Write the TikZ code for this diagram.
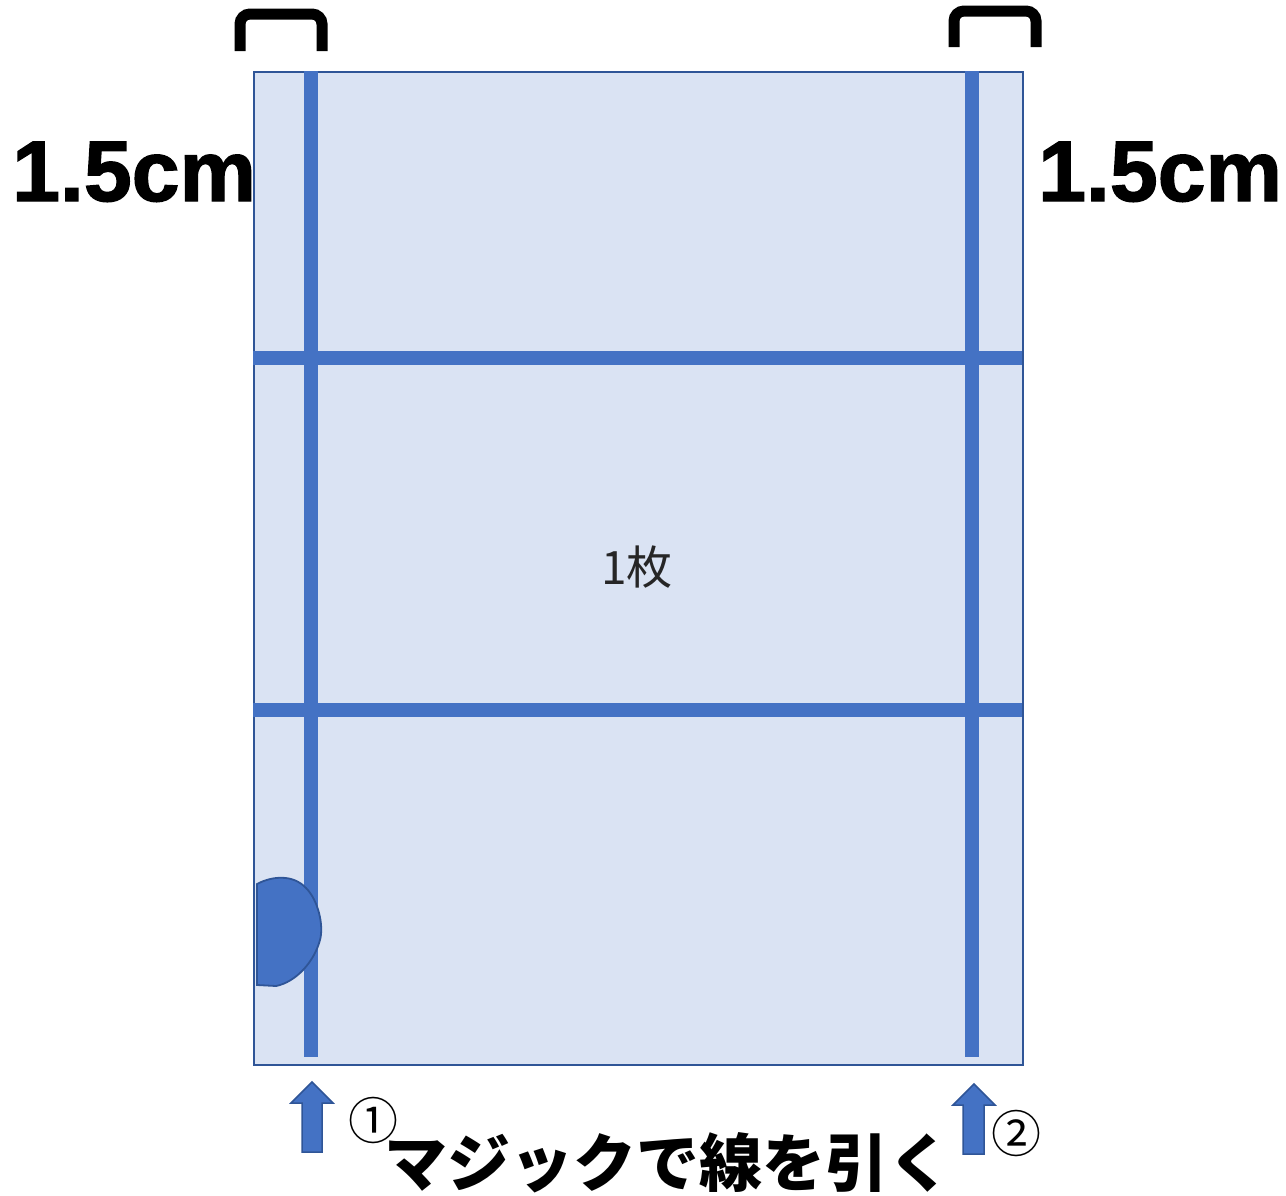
\documentclass[tikz,border=0pt]{standalone}
\usepackage{fontspec}
\newfontfamily\jp{Noto Sans CJK JP}
\newfontfamily\lsans[BoldFeatures={FakeBold=1.6}]{Liberation Sans}
\definecolor{sheet}{HTML}{DAE3F3}
\definecolor{bar}{HTML}{4472C4}
\definecolor{edge}{HTML}{2F5597}
\tikzset{
  barline/.style={bar, line width=14pt},
  brk/.style={black, line width=11pt, rounded corners=10pt},
  blockarrow/.style={fill=bar, draw=edge, line width=1.5pt},
  big/.style={font=\lsans\bfseries\fontsize{86}{86}\selectfont, inner sep=0pt, anchor=base west},
}
\begin{document}
\begin{tikzpicture}[x=1pt,y=-1pt]
\useasboundingbox (0,0) rectangle (1286,1195);
% sheet
\node[draw=edge, fill=sheet, line width=1.8pt, minimum width=769pt, minimum height=993pt, inner sep=0pt, anchor=north west] (sheet) at (253,71) {};
% lines
\draw[barline] (311,71) -- (311,1057);
\draw[barline] (972,71) -- (972,1057);
\draw[barline] (253,358) -- (1022,358);
\draw[barline] (253,710) -- (1022,710);
\node[font=\jp\fontsize{46}{46}\selectfont, text=black!85] (one) at (637,567) {1枚};
% half disc
\draw[fill=bar, draw=edge, line width=1.8pt] (257,884) .. controls (272,876) and (293,874) .. (306,888) .. controls (318,900) and (324,925) .. (320,940) .. controls (314,962) and (296,982) .. (276,986) -- (257,985) -- cycle;
% brackets
\draw[brk] (240,51) -- (240,14) -- (322,14) -- (322,51);
\draw[brk] (954,47) -- (954,11) -- (1036,11) -- (1036,47);
\node[big] (lab1) at (12,201) {1.5cm};
\node[big] (lab2) at (1038,201) {1.5cm};
% arrows
\draw[blockarrow] (312,1082) -- (333,1103) -- (322,1103) -- (322,1152) -- (302,1152) -- (302,1103) -- (291,1103) -- cycle;
\draw[blockarrow] (974,1084) -- (995,1105) -- (984,1105) -- (984,1154) -- (963,1154) -- (963,1105) -- (953,1105) -- cycle;
\node[font=\jp\fontsize{50}{50}\selectfont, inner sep=0pt] (c1) at (373,1120) {①};
\node[font=\jp\fontsize{50}{50}\selectfont, inner sep=0pt] (c2) at (1016,1133) {②};
\node[font=\jp\bfseries\fontsize{63}{63}\selectfont, inner sep=0pt] (msg) at (668,1163) {マジックで線を引く};
\end{tikzpicture}
\end{document}
